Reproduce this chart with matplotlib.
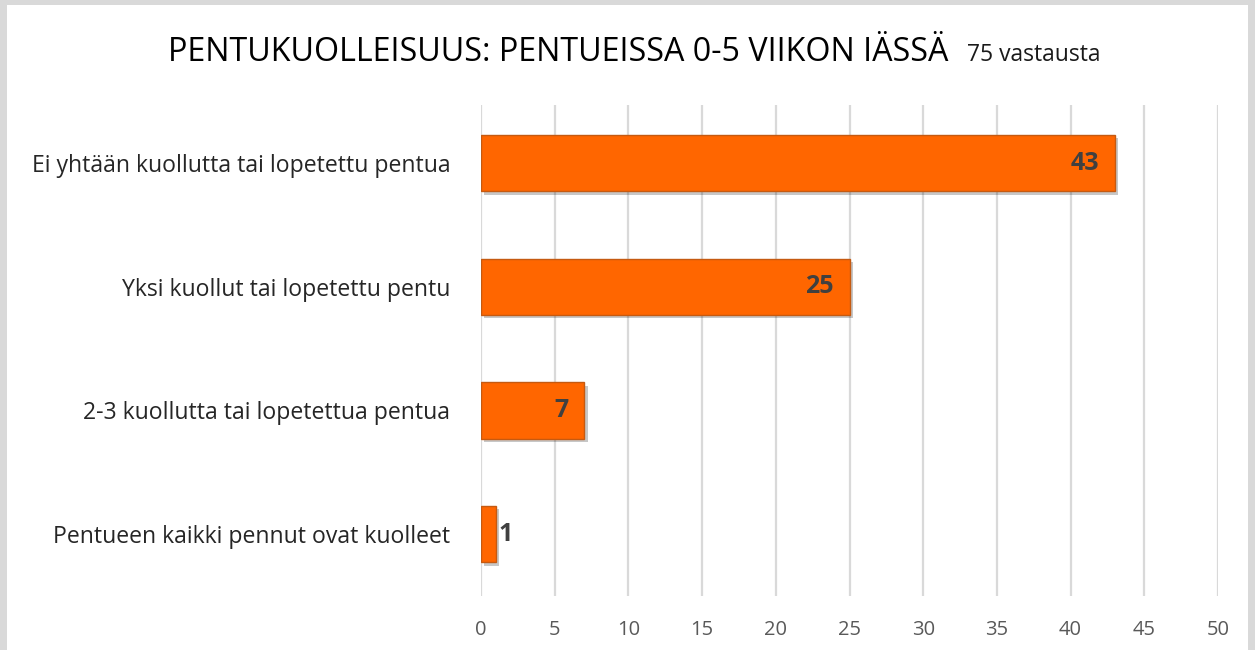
"""Pentukuolleisuus bar chart, recreated with matplotlib."""

import matplotlib
matplotlib.use("Agg")
import matplotlib.pyplot as plt
import matplotlib.patheffects as pe
from matplotlib.patches import Rectangle

# data (top to bottom as in the picture)
categories = [
    "Ei yhtään kuollutta tai lopetettu pentua",
    "Yksi kuollut tai lopetettu pentu",
    "2-3 kuollutta tai lopetettua pentua",
    "Pentueen kaikki pennut ovat kuolleet",
]
counts = [43, 25, 7, 1]
x_ticks = [0, 5, 10, 15, 20, 25, 30, 35, 40, 45, 50]
title = "PENTUKUOLLEISUUS: PENTUEISSA 0-5 VIIKON IÄSSÄ"
subtitle = "75 vastausta"

W, H = 1255, 650
plt.rcParams['font.family'] = ['Open Sans', 'DejaVu Sans']

fig = plt.figure(figsize=(W / 100, H / 100), dpi=100)
fig.patch.set_facecolor("#D9D9D9")
# white chart area inside the gray frame
fig.patches.append(Rectangle((7 / W, 0), (1248 - 7) / W, (H - 5) / H,
                             transform=fig.transFigure, facecolor="white",
                             edgecolor="none", zorder=-10))

ax = fig.add_axes([481 / W, 1 - 596 / H, (1218 - 481) / W, (596 - 105) / H])
ax.set_facecolor("none")

ypos = list(range(len(categories)))
shadow = [pe.SimplePatchShadow(offset=(2.5, -2.5), shadow_rgbFace="black", alpha=0.22), pe.Normal()]
bars = ax.barh(ypos, counts, height=0.455, color="#FF6600", edgecolor="#C55A11",
               linewidth=1, zorder=3)
for b in bars:
    b.set_path_effects(shadow)

for y, v in zip(ypos, counts):
    if v >= 5:
        ax.text(v - 1.05, y, str(v), ha="right", va="center", fontsize=18,
                fontweight="bold", color="#404040", zorder=4)
    else:
        ax.text(v + 0.2, y, str(v), ha="left", va="center", fontsize=18,
                fontweight="bold", color="#404040", zorder=4)

ax.set_xlim(0, 50)
ax.set_ylim(3.5, -0.47)
ax.set_xticks(x_ticks)
ax.set_yticks(ypos)
ax.set_yticklabels(categories)
ax.tick_params(axis="x", length=0, pad=17, labelsize=14.5, labelcolor="#595959")
ax.tick_params(axis="y", length=0, pad=22, labelsize=16.6, labelcolor="#262626")
ax.grid(axis="x", color="#D9D9D9", linewidth=1.6, zorder=0)
ax.set_axisbelow(True)
for s in ax.spines.values():
    s.set_visible(False)

fig.text(168 / W, 1 - 61 / H, title, ha="left", va="baseline",
         fontsize=23.2, color="#000000")
fig.text(967 / W, 1 - 61 / H, subtitle, ha="left", va="baseline",
         fontsize=16.5, color="#1a1a1a")

fig.savefig("out.png", dpi=100, facecolor=fig.get_facecolor())
